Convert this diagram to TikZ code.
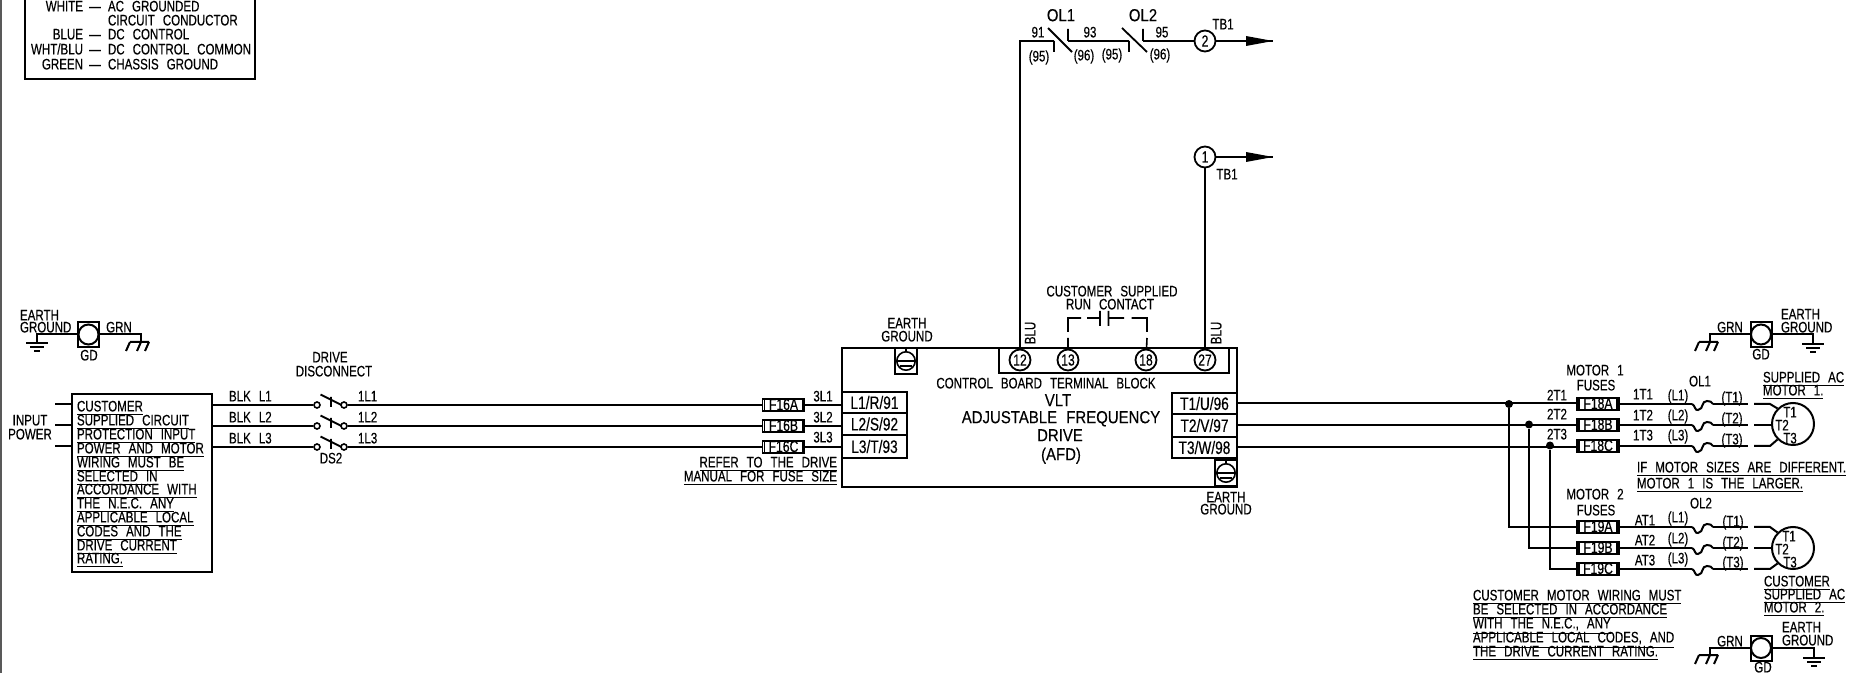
\documentclass[tikz,border=0pt]{standalone}
\usepackage{fontspec}
\setmainfont[FakeStretch=0.76,WordSpace=2.5,FakeBold=0.35]{Liberation Sans}
\newfontfamily\thinf[FakeStretch=0.86,WordSpace=2.2,FakeBold=0.15]{Liberation Sans}
\newcounter{tn}
\tikzset{
 x=0.5pt,y=-0.5pt,
 wire/.style={line width=1pt,line cap=butt},
 thinw/.style={line width=0.8pt},
 txt/.style={inner sep=0pt,outer sep=0pt,text height=5.4pt,text depth=0pt,font=\fontsize{7.6}{8}\selectfont},
 big/.style={inner sep=0pt,outer sep=0pt,text height=6.2pt,text depth=0pt,font=\thinf\fontsize{8.7}{10}\selectfont},
 lw/.style={txt,anchor=west},
 le/.style={txt,anchor=east},
 term/.style={circle,draw,line width=0.9pt,minimum size=10.5pt,inner sep=0pt,font=\fontsize{8}{8}\selectfont},
 gdbox/.style={rectangle,draw,line width=1pt,minimum width=10.5pt,minimum height=12.5pt,inner sep=0pt},
 gdcirc/.style={circle,draw,line width=1pt,minimum size=10pt,inner sep=0pt},
 swc/.style={circle,draw,line width=0.8pt,fill=white,minimum size=3pt,inner sep=0pt},
 fuse/.style={rectangle,draw,line width=0.8pt,minimum width=21pt,minimum height=5.8pt,inner sep=0pt,text height=5pt,text depth=0pt,font=\fontsize{8}{8}\selectfont},
 tip/.style={fill=black,draw=none},
 ctr/.style={rectangle,draw,line width=1pt,inner sep=0pt},
 dotn/.style={circle,fill=black,minimum size=4pt,inner sep=0pt},
 tbx/.style={ctr,minimum width=32.5pt,font=\fontsize{9}{8}\selectfont},
}
\newcommand\T[3][txt]{\stepcounter{tn}\node[#1] (t\thetn) at (#2) {#3};}
\newcommand\U[2]{\stepcounter{tn}\node[lw] (t\thetn) at (#1) {\underline{#2}};}
\newcommand\Ur[2]{\stepcounter{tn}\node[le] (t\thetn) at (#1) {\underline{#2}};}
% name x y
\newcommand\fuseb[4]{\node[fuse] (#1) at (#2,#3) {#4};
 \draw[line width=0.8pt] ([xshift=1.3pt]#1.north west) -- ([xshift=1.3pt]#1.south west)
  ([xshift=-1.3pt]#1.north east) -- ([xshift=-1.3pt]#1.south east);}
\newcommand\gnd[2]{\draw[wire] (#1-11,#2) -- (#1+11,#2) (#1-7,#2+4) -- (#1+7,#2+4) (#1-3,#2+8) -- (#1+3,#2+8);}
\newcommand\chassis[2]{\draw[wire] (#1-11,#2) -- (#1+8,#2) (#1-11,#2) -- (#1-15,#2+9) (#1,#2) -- (#1-4,#2+9) (#1+8,#2) -- (#1+4,#2+9);}
% name x y
\newcommand\gdterm[3]{\node[gdbox] (#1) at (#2,#3) {}; \node[gdcirc] (#1c) at (#2,#3) {};}
\newcommand\pegnd[4]{\node[rectangle,draw,line width=1pt,minimum width=#4pt,minimum height=13pt,inner sep=0pt] (#1) at (#2,#3) {};
 \node[circle,draw,line width=0.8pt,minimum size=9.2pt,inner sep=0pt] (#1c) at (#2,#3) {};
 \draw[line width=0.8pt] (#1c.west) -- (#1c.east) (#2-6,#3+5) -- (#2+6,#3+5) (#1.north) -- (#1c.north);}
% name y
\newcommand\switchb[2]{\node[swc] (#1a) at (317,#2+1) {}; \node[swc] (#1b) at (344,#2+1) {};
 \draw[line width=0.9pt] (320.5,#2-9.5) -- (341.5,#2+1) (331,#2-7) -- (331,#2+3);}
% overload: name x y
\newcommand\olb[3]{\coordinate (#1a) at (#2,#3); \coordinate (#1b) at (#2+21,#3);
 \draw[wire] (#1a) to[out=-20,in=-160,looseness=1] (#2+6,#3+6) to[out=20,in=-90,looseness=1] (#2+10.5,#3+1) to[out=90,in=180,looseness=0.9] (#2+15,#3-3) to[out=0,in=110,looseness=0.9] (#1b);}
\begin{document}
\begin{tikzpicture}
\useasboundingbox (0,0) rectangle (1859,673);
\fill[white] (0,0) rectangle (1859,673);
\draw[line width=1pt,black!65] (1,0) -- (1,673);
% legend
\coordinate (lgA) at (25,-4); \coordinate (lgB) at (255,-4); \coordinate (lgC) at (255,79); \coordinate (lgD) at (25,79);
\draw[wire,line width=1.1pt] (lgA) -- (lgD) -- (lgC) -- (lgB);
\T[le]{83,6}{WHITE}\T{95,6}{—}\T[lw]{108,6}{AC GROUNDED}
\T[lw]{108,20}{CIRCUIT CONDUCTOR}
\T[le]{83,34}{BLUE}\T{95,34}{—}\T[lw]{108,34}{DC CONTROL}
\T[le]{83,49}{WHT/BLU}\T{95,49}{—}\T[lw]{108,49}{DC CONTROL COMMON}
\T[le]{83,64}{GREEN}\T{95,64}{—}\T[lw]{108,64}{CHASSIS GROUND}
% left ground
\gdterm{gdL}{88.5}{334.5}
\coordinate (eL) at (37,343); \coordinate (cL) at (141,342);
\draw[wire] (gdLc.west) -- (eL |- gdLc.west) -- (eL); \gnd{37}{343}
\draw[wire] (gdLc.east) -- (cL |- gdLc.east) -- (cL); \chassis{141}{342}
\T[lw]{20,315}{EARTH}\T[lw]{20,327}{GROUND}\T{89,355}{GD}\T{119,327}{GRN}
% input box
\node[ctr,minimum width=70pt,minimum height=89pt] (inbox) at (142,483) {};
\U{77,406}{CUSTOMER}\U{77,420}{SUPPLIED CIRCUIT}\U{77,434}{PROTECTION INPUT}\U{77,448}{POWER AND MOTOR}
\U{77,462}{WIRING MUST BE}\U{77,476}{SELECTED IN}\U{77,489}{ACCORDANCE WITH}\U{77,503}{THE N.E.C. ANY}
\U{77,517}{APPLICABLE LOCAL}\U{77,531}{CODES AND THE}\U{77,545}{DRIVE CURRENT}\U{77,558}{RATING.}
\T{30,420}{INPUT}\T{30,434}{POWER}
\foreach \yy/\nn in {404/a,425/b,446/c}{
 \coordinate (st\nn) at (55,\yy); \coordinate (sx\nn) at (inbox.west |- st\nn);
 \draw[wire] (st\nn) -- (sx\nn);
}
% switches
\switchb{swa}{404}\switchb{swb}{425}\switchb{swc}{446}
\draw[wire] (inbox.east |- swaa) -- (swaa);
\draw[wire] (inbox.east |- swba) -- (swba);
\draw[wire] (inbox.east |- swca) -- (swca);
\T[lw]{229,396}{BLK L1}\T[lw]{229,417}{BLK L2}\T[lw]{229,438}{BLK L3}
\T[lw]{358,396}{1L1}\T[lw]{358,417}{1L2}\T[lw]{358,438}{1L3}
\T{331,458}{DS2}\T{330,357}{DRIVE}\T{334,371}{DISCONNECT}
% fuses F16
\fuseb{F16A}{783.5}{405}{F16A}\fuseb{F16B}{783.5}{426}{F16B}\fuseb{F16C}{783.5}{447}{F16C}
\draw[wire] (swab) -- (F16A.west);
\draw[wire] (swbb) -- (F16B.west);
\draw[wire] (swcb) -- (F16C.west);
\T{823,396}{3L1}\T{823,417}{3L2}\T{823,437}{3L3}
\Ur{837,462}{REFER TO THE DRIVE}\Ur{837,476}{MANUAL FOR FUSE SIZE}
% drive
\node[ctr,minimum width=197.5pt,minimum height=69.5pt] (afd) at (1039.5,417.5) {};
\node[ctr,minimum width=115pt,minimum height=12.5pt] (tblock) at (1114,360.5) {};
\node[tbx,minimum height=10.5pt] (L1) at (874.5,402.5) {L1/R/91};
\node[tbx,minimum height=11pt] (L2) at (874.5,424) {L2/S/92};
\node[tbx,minimum height=11.5pt] (L3) at (874.5,446.5) {L3/T/93};
\node[tbx,minimum height=10.5pt] (T1) at (1204.5,403.5) {T1/U/96};
\node[tbx,minimum height=11.5pt] (T2) at (1204.5,425.5) {T2/V/97};
\node[tbx,minimum height=10.5pt] (T3) at (1204.5,447.5) {T3/W/98};
\draw[wire] (F16A.east) -- (L1.west |- F16A.east);
\draw[wire] (F16B.east) -- (L2.west |- F16B.east);
\draw[wire] (F16C.east) -- (L3.west |- F16C.east);
\T{1046,383}{CONTROL BOARD TERMINAL BLOCK}
\T[big]{1058,400}{VLT}\T[big]{1061,417}{ADJUSTABLE FREQUENCY}\T[big]{1060,435}{DRIVE}\T[big]{1061,454}{(AFD)}
\pegnd{gA}{906}{361}{11}
\pegnd{gB}{1226}{473}{11}
\T{907,323}{EARTH}\T{907,336}{GROUND}\T{1226,497}{EARTH}\T{1226,509}{GROUND}
% terminals
\node[term] (n12) at (1020,360) {12};\node[term] (n13) at (1068,360) {13};
\node[term] (n18) at (1146,360) {18};\node[term] (n27) at (1205,360) {27};
\T[txt,rotate=90]{1030,333}{BLU}\T[txt,rotate=90]{1216,333}{BLU}
% top circuit
\coordinate (top) at (1020,41);
\coordinate (c1l) at (1054,41);\coordinate (c1r) at (1068,41);\coordinate (c2l) at (1129,41);\coordinate (c2r) at (1143,41);
\node[term] (n2) at (1205,41) {2};\node[term] (n1) at (1205,157) {1};
\coordinate (ar2) at (1273,41);\coordinate (ar1) at (1273,157);
\draw[wire] (n12) -- (top) -- (c1l);
\draw[wire] (c1r) -- (c2l);
\draw[wire] (c2r) -- (n2);
\draw[wire] (n2) -- (ar2);
\draw[thinw] (n1) -- (ar1);
\draw[wire] (n1) -- (n27);
\fill[tip] (1246,36) -- (ar2) -- (1246,46) -- cycle;
\fill[tip] (1246,152) -- (ar1) -- (1246,162) -- cycle;
\draw[line width=0.9pt] (c1l) -- (1054,52) (c1r) -- (1068,29) (1048,28) -- (1072,52);
\draw[line width=0.9pt] (c2l) -- (1129,52) (c2r) -- (1143,29) (1122,28) -- (1147,52);
\T[big]{1061,15}{OL1}\T[big]{1143,15}{OL2}
\T{1038,32}{91}\T{1090,32}{93}\T{1162,32}{95}
\T{1039,56}{(95)}\T{1084,55}{(96)}\T{1112,54}{(95)}\T{1160,54}{(96)}
\T{1223,24}{TB1}\T{1227,174}{TB1}
% run contact
\T{1112,291}{CUSTOMER SUPPLIED}\T{1110,304}{RUN CONTACT}
\coordinate (rA) at (1068,338);\coordinate (rB) at (1068,332);\coordinate (rC) at (1068,318);\coordinate (rD) at (1081,318);
\coordinate (rE) at (1087,318);\coordinate (rF) at (1100,318);\coordinate (rG) at (1108.5,318);\coordinate (rH) at (1124,318);
\coordinate (rI) at (1131.5,318);\coordinate (rJ) at (1147,318);\coordinate (rK) at (1147,332);\coordinate (rL) at (1147,338);
\draw[thinw] (n13) -- (rA) (rB) -- (rC) -- (rD) (rE) -- (rF) (1100,311) -- (1100,326) (1108.5,311) -- (1108.5,326) (rG) -- (rH) (rI) -- (rJ) -- (rK) (rL) -- (n18);
% output wires
\fuseb{F18A}{1598}{404}{F18A}\fuseb{F18B}{1598}{425}{F18B}\fuseb{F18C}{1598}{446}{F18C}
\fuseb{F19A}{1598}{527}{F19A}\fuseb{F19B}{1598}{548}{F19B}\fuseb{F19C}{1598}{569}{F19C}
\draw[wire] (T1.east) -- (F18A.west |- T1.east);
\draw[wire] (T2.east) -- (F18B.west |- T2.east);
\draw[wire] (T3.east) -- (F18C.west |- T3.east);
\node[dotn] (d1) at (1509,404) {};\node[dotn] (d2) at (1529,424.5) {};\node[dotn] (d3) at (1550,445.5) {};
\draw[wire] (d1) |- (F19A.west);
\draw[wire] (d2) |- (F19B.west);
\draw[wire] (d3) |- (F19C.west);
\T{1557,395}{2T1}\T{1557,414}{2T2}\T{1557,434}{2T3}
\T{1595,370}{MOTOR 1}\T{1596,385}{FUSES}\T{1595,494}{MOTOR 2}\T{1596,510}{FUSES}
\T{1643,394}{1T1}\T{1643,415}{1T2}\T{1643,435}{1T3}
\T{1678,395}{(L1)}\T{1678,415}{(L2)}\T{1678,435}{(L3)}
\T{1645,520}{AT1}\T{1645,540}{AT2}\T{1645,560}{AT3}
\T{1678,517}{(L1)}\T{1678,538}{(L2)}\T{1678,558}{(L3)}
\T{1700,381}{OL1}\T{1701,503}{OL2}
\olb{oa}{1692}{404}\olb{ob}{1692}{425}\olb{oc}{1692}{446}
\olb{pa}{1692}{527}\olb{pb}{1692}{548}\olb{pc}{1692}{569}
\node[circle,draw,line width=1pt,minimum size=21pt,inner sep=0pt] (m1) at (1793,424) {};
\node[circle,draw,line width=1pt,minimum size=21pt,inner sep=0pt] (m2) at (1793,548) {};
\foreach \f/\o/\yy in {F18A/oa/404,F18B/ob/425,F18C/oc/446,F19A/pa/527,F19B/pb/548,F19C/pc/569}{
 \draw[wire] (\f.east |- \o a) -- (\o a);
 \coordinate (\o e) at (1748,\yy);
 \draw[wire] (\o b) -- (\o e);
}
\coordinate (qa) at (1754,404);\coordinate (qb) at (1754,425);\coordinate (qc) at (1754,446);
\coordinate (ra) at (1754,527);\coordinate (rb) at (1754,548);\coordinate (rc) at (1754,569);
\draw[wire] (qa) -- (1770,404) -- (m1.135);
\draw[wire] (qb) -- (m1.west |- qb);
\draw[wire] (qc) -- (1770,446) -- (m1.225);
\draw[wire] (ra) -- (1770,527) -- (m2.135);
\draw[wire] (rb) -- (m2.west |- rb);
\draw[wire] (rc) -- (1770,569) -- (m2.225);
\T{1732,397}{(T1)}\T{1732,418}{(T2)}\T{1732,439}{(T3)}
\T{1733,521}{(T1)}\T{1733,542}{(T2)}\T{1733,562}{(T3)}
\T{1790,412}{T1}\T{1782,425}{T2}\T{1790,438}{T3}
\T{1789,536}{T1}\T{1782,549}{T2}\T{1790,562}{T3}
\U{1763,377}{SUPPLIED AC}\U{1763,390}{MOTOR 1.}
\U{1637,467}{IF MOTOR SIZES ARE DIFFERENT.}\U{1637,483}{MOTOR 1 IS THE LARGER.}
\U{1764,581}{CUSTOMER}\U{1764,594}{SUPPLIED AC}\U{1764,607}{MOTOR 2.}
\U{1473,595}{CUSTOMER MOTOR WIRING MUST}\U{1473,609}{BE SELECTED IN ACCORDANCE}\U{1473,623}{WITH THE N.E.C., ANY}\U{1473,637}{APPLICABLE LOCAL CODES, AND}\U{1473,651}{THE DRIVE CURRENT RATING.}
% right grounds
\gdterm{gdR}{1761}{334.5}
\coordinate (cR) at (1710,342);\coordinate (eR) at (1813,344);
\draw[wire] (gdRc.west) -- (cR |- gdRc.west) -- (cR); \chassis{1710}{342}
\draw[wire] (gdRc.east) -- (eR |- gdRc.east) -- (eR); \gnd{1813}{344}
\T{1730,327}{GRN}\T[lw]{1781,314}{EARTH}\T[lw]{1781,327}{GROUND}\T{1761,354}{GD}
\gdterm{gdB}{1761}{648}
\coordinate (cB) at (1710,655);\coordinate (eB) at (1814,658);
\draw[wire] (gdBc.west) -- (cB |- gdBc.west) -- (cB); \chassis{1710}{655}
\draw[wire] (gdBc.east) -- (eB |- gdBc.east) -- (eB); \gnd{1814}{658}
\T{1730,641}{GRN}\T[lw]{1782,627}{EARTH}\T[lw]{1782,640}{GROUND}\T{1763,667}{GD}
\end{tikzpicture}
\end{document}
